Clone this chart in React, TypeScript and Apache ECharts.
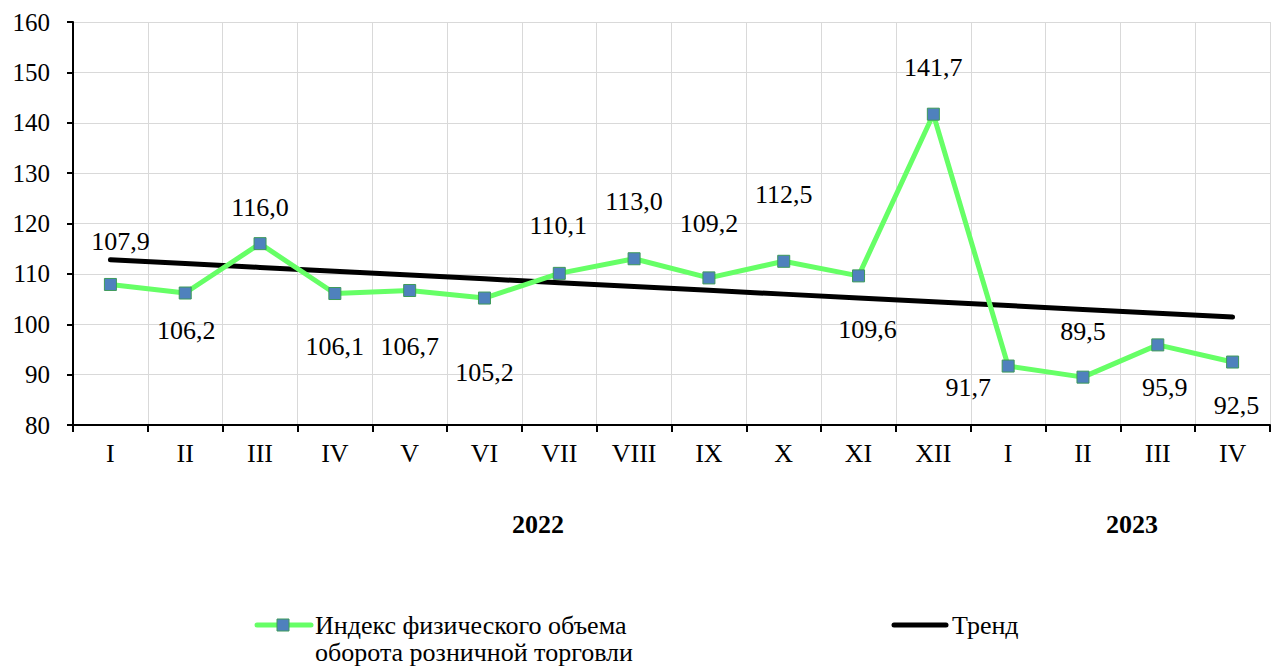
import React, { useEffect, useRef } from "react";
import * as echarts from "echarts";

const categories = ["I", "II", "III", "IV", "V", "VI", "VII", "VIII", "IX", "X", "XI", "XII", "I", "II", "III", "IV"];
const indexValues = [107.9, 106.2, 116.0, 106.1, 106.7, 105.2, 110.1, 113.0, 109.2, 112.5, 109.6, 141.7, 91.7, 89.5, 95.9, 92.5];
const yearLabels = ["2022", "2023"];
const seriesNames = ["Индекс физического объема\nоборота розничной торговли", "Тренд"];

// label offsets relative to each point (layout only)
const labelOffsets: [number, number][] = [
  [10, -43], [1, 37], [0, -36], [0, 53], [0, 56], [0, 74], [-1, -48], [0, -57],
  [0, -54], [0, -67], [9, 54], [0, -47], [-40, 21], [0, -46], [7, 43], [4, 43],
];

// linear (least squares) trend computed from the data
function linearTrend(values: number[]): number[] {
  const n = values.length;
  const xs = values.map((_, i) => i + 1);
  const mx = xs.reduce((a, b) => a + b, 0) / n;
  const my = values.reduce((a, b) => a + b, 0) / n;
  let sxy = 0, sxx = 0;
  for (let i = 0; i < n; i++) {
    sxy += (xs[i] - mx) * (values[i] - my);
    sxx += (xs[i] - mx) * (xs[i] - mx);
  }
  const b = sxy / sxx;
  const a = my - b * mx;
  return xs.map((x) => +(a + b * x).toFixed(2));
}

const FONT = "Liberation Serif";
const FS = 26;
const GREEN = "#66ff66";
const MARKER = "#4f81bd";
const MARKER_BORDER = "#3d9a5a";

export default function App() {
  const ref = useRef<HTMLDivElement>(null);
  useEffect(() => {
    if (!ref.current) return;
    const chart = echarts.init(ref.current, null, { renderer: "svg" });
    const trend = linearTrend(indexValues);
    chart.setOption({
      animation: false,
      backgroundColor: "#ffffff",
      textStyle: { fontFamily: FONT },
      grid: { left: 73, right: 1, top: 22, bottom: 245, containLabel: false },
      xAxis: {
        type: "category",
        data: categories,
        boundaryGap: true,
        axisLine: { show: true, lineStyle: { color: "#000", width: 2 } },
        axisTick: { show: true, alignWithLabel: false, length: 7, lineStyle: { color: "#000", width: 2 } },
        axisLabel: { color: "#000", fontFamily: FONT, fontSize: FS, margin: 15, interval: 0 },
        splitLine: { show: true, interval: 0, lineStyle: { color: "#d9d9d9", width: 1 } },
      },
      yAxis: {
        type: "value",
        min: 80,
        max: 160,
        interval: 10,
        axisLine: { show: true, lineStyle: { color: "#000", width: 2 } },
        axisTick: { show: true, length: 6, lineStyle: { color: "#000", width: 2 } },
        axisLabel: { color: "#000", fontFamily: FONT, fontSize: 25, margin: 23 },
        splitLine: { show: true, lineStyle: { color: "#d9d9d9", width: 1 } },
      },
      series: [
        {
          name: seriesNames[1],
          type: "line",
          data: trend,
          symbol: "none",
          z: 3,
          lineStyle: { color: "#000", width: 5, cap: "round" },
          silent: true,
        },
        {
          name: seriesNames[0],
          type: "line",
          z: 4,
          data: indexValues.map((v, i) => ({
            value: v,
            label: { offset: labelOffsets[i] },
          })),
          symbol: "rect",
          symbolSize: 12,
          itemStyle: { color: MARKER, borderColor: MARKER_BORDER, borderWidth: 1 },
          lineStyle: { color: GREEN, width: 5 },
          label: {
            show: true,
            position: "inside",
            color: "#000",
            fontFamily: FONT,
            fontSize: FS,
            formatter: (p: any) => Number(p.value).toFixed(1).replace(".", ","),
          },
        },
      ],
      graphic: [
        { type: "text", style: { x: 538, y: 524, text: yearLabels[0], fontFamily: FONT, fontWeight: "bold", fontSize: FS, fill: "#000", align: "center", verticalAlign: "middle" } },
        { type: "text", style: { x: 1132, y: 524, text: yearLabels[1], fontFamily: FONT, fontWeight: "bold", fontSize: FS, fill: "#000", align: "center", verticalAlign: "middle" } },
        // legend
        { type: "line", shape: { x1: 257, y1: 625, x2: 311, y2: 625 }, style: { stroke: GREEN, lineWidth: 5, lineCap: "round" } },
        { type: "rect", shape: { x: 277, y: 619, width: 12, height: 12 }, style: { fill: MARKER, stroke: MARKER_BORDER, lineWidth: 1 } },
        { type: "text", style: { x: 315, y: 612, text: seriesNames[0], fontFamily: FONT, fontSize: FS, fill: "#000", lineHeight: 27, verticalAlign: "top" } },
        { type: "line", shape: { x1: 894, y1: 625, x2: 946, y2: 625 }, style: { stroke: "#000", lineWidth: 5, lineCap: "round" } },
        { type: "text", style: { x: 952, y: 612, text: seriesNames[1], fontFamily: FONT, fontSize: FS, fill: "#000", lineHeight: 27, verticalAlign: "top" } },
      ],
    });
    return () => chart.dispose();
  }, []);
  return <div ref={ref} style={{ position: "fixed", left: 0, top: 0, width: 1271, height: 670 }} />;
}
